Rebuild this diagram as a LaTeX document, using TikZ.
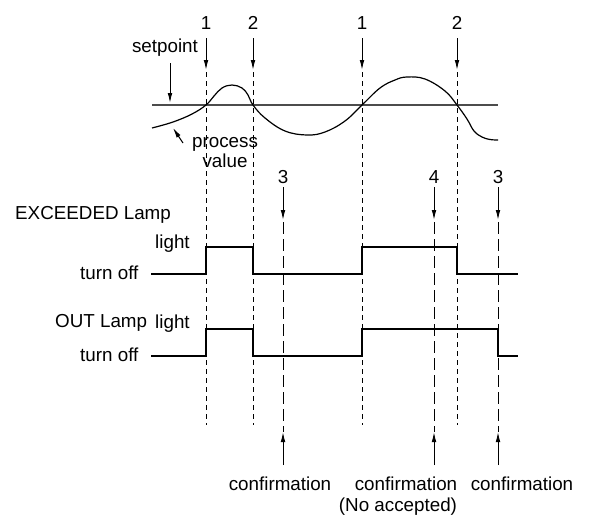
\documentclass[tikz,border=0pt]{standalone}
\usepackage{fontspec}
\setmainfont{Liberation Sans}
\usetikzlibrary{arrows.meta}
\begin{document}
\begin{tikzpicture}[x=1pt,y=-1pt,
 lbl/.style={font=\fontsize{18.8}{22}\selectfont, inner sep=0pt, anchor=base},
 lblw/.style={lbl, anchor=base west},
 arr/.style={-{Latex[length=10pt,width=4.6pt]}, line width=1pt},
 dshort/.style={dash pattern=on 5pt off 4pt, line width=0.9pt},
 dlong/.style={dash pattern=on 12pt off 5pt, line width=0.9pt},
 sig/.style={line width=1.2pt},
 spline/.style={line width=1.3pt, black!70},
 curve/.style={line width=1.2pt},
]
\useasboundingbox (0,0) rectangle (595,517);

% markers 1 and 2
\foreach \nm/\x/\lab in {1a/206/1, 2a/253/2, 1b/362/1, 2b/457/2} {
  \node[lbl] (L\nm) at (\x,29) {\lab};
  \coordinate (T\nm) at (\x,70);
  \coordinate (B\nm) at (\x,425);
  \draw[arr] ([yshift=-9pt]L\nm.south) -- (T\nm);
  \draw[dshort] ([yshift=-2pt]T\nm) -- (B\nm);
}

% markers 3 and 4
\foreach \nm/\x/\lab in {3a/283/3, 4/434/4, 3b/498/3} {
  \node[lbl] (L\nm) at (\x,183) {\lab};
  \coordinate (T\nm) at (\x,220);
  \coordinate (B\nm) at (\x,432);
  \coordinate (C\nm) at (\x,465);
  \draw[arr] ([yshift=-4pt]L\nm.south) -- (T\nm);
  \draw[dlong] ([yshift=-2pt]T\nm) -- (B\nm);
  \draw[arr] (C\nm) -- (B\nm);
}

% setpoint
\coordinate (SPa) at (152,105);
\coordinate (SPb) at (498,105);
\draw[spline] (SPa) -- (SPb);
\node[lbl] (setpoint) at (165,52) {setpoint};
\coordinate (SPtail) at (170,63);
\coordinate (SPtip) at (170,103);
\draw[arr] (SPtail) -- (SPtip);

% process value curve
\draw[curve] plot[smooth, tension=0.65] coordinates {
 (152,128) (173,122) (192,114) (206,105) (214,96) (222,88) (232,85)
 (242,88) (248,95) (253,105) (265,118) (285,131) (307,135)
 (325,132) (345,121) (362,105) (380,88) (395,80) (407,77)
 (425,79) (445,91) (457,105) (467,119) (474,131) (482,137) (490,139.5) (498,140)};
\node[lbl] (proc) at (225,147) {process};
\node[lbl] (val) at (225,167) {value};
\coordinate (PVtail) at (183,143);
\coordinate (PVtip) at (173,128);
\draw[arr] (PVtail) -- (PVtip);

% EXCEEDED lamp
\node[lblw] (exc) at (15,219) {EXCEEDED Lamp};
\node[lblw] (exclight) at (155,248) {light};
\node[lblw] (excoff) at (80,279) {turn off};
\coordinate (E0) at (151,274);
\coordinate (E1) at (518,274);
\draw[sig] (E0) -| (206,247) -| (253,274) -| (362,247) -| (457,274) -- (E1);

% OUT lamp
\node[lblw] (out) at (55,327) {OUT Lamp};
\node[lblw] (outlight) at (155,328) {light};
\node[lblw] (outoff) at (80,361) {turn off};
\coordinate (O0) at (151,356);
\coordinate (O1) at (518,356);
\draw[sig] (O0) -| (206,329) -| (253,356) -| (362,329) -| (498,356) -- (O1);

% confirmations
\node[lbl] (cf1) at (280,490) {confirmation};
\node[lbl] (cf2) at (406,490) {confirmation};
\node[lbl] (cf2b) at (398,511) {(No accepted)};
\node[lbl] (cf3) at (522,490) {confirmation};
\end{tikzpicture}
\end{document}
